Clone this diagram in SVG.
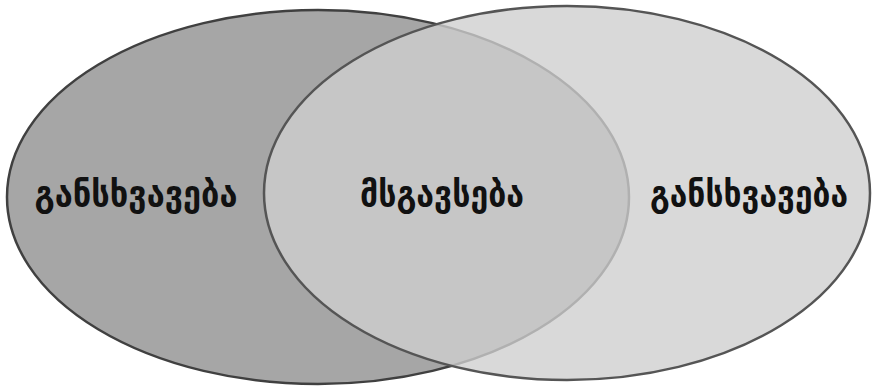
<svg xmlns="http://www.w3.org/2000/svg" width="873" height="389" viewBox="0 0 873 389">
<style>
.lbl{font-family:"DejaVu Sans","Noto Sans",sans-serif;font-weight:bold;font-size:36px;fill:#111;text-anchor:middle}
</style>
<rect width="873" height="389" fill="#fff"/>
<g id="left-circle">
<ellipse cx="318" cy="197" rx="311" ry="187" fill="#a6a6a6" stroke="#404040" stroke-width="2.5"/>
</g>
<g id="right-circle">
<ellipse cx="567" cy="193" rx="303" ry="187" fill="#cfcfcf" fill-opacity="0.79" stroke="#555" stroke-width="2.5"/>
</g>
<g id="connectors"></g>
<g id="label-left"><text class="lbl" x="136" y="206" textLength="203" lengthAdjust="spacingAndGlyphs">განსხვავება</text></g>
<g id="label-center"><text class="lbl" x="442" y="206" textLength="164" lengthAdjust="spacingAndGlyphs">მსგავსება</text></g>
<g id="label-right"><text class="lbl" x="749" y="206" textLength="198" lengthAdjust="spacingAndGlyphs">განსხვავება</text></g>
</svg>
